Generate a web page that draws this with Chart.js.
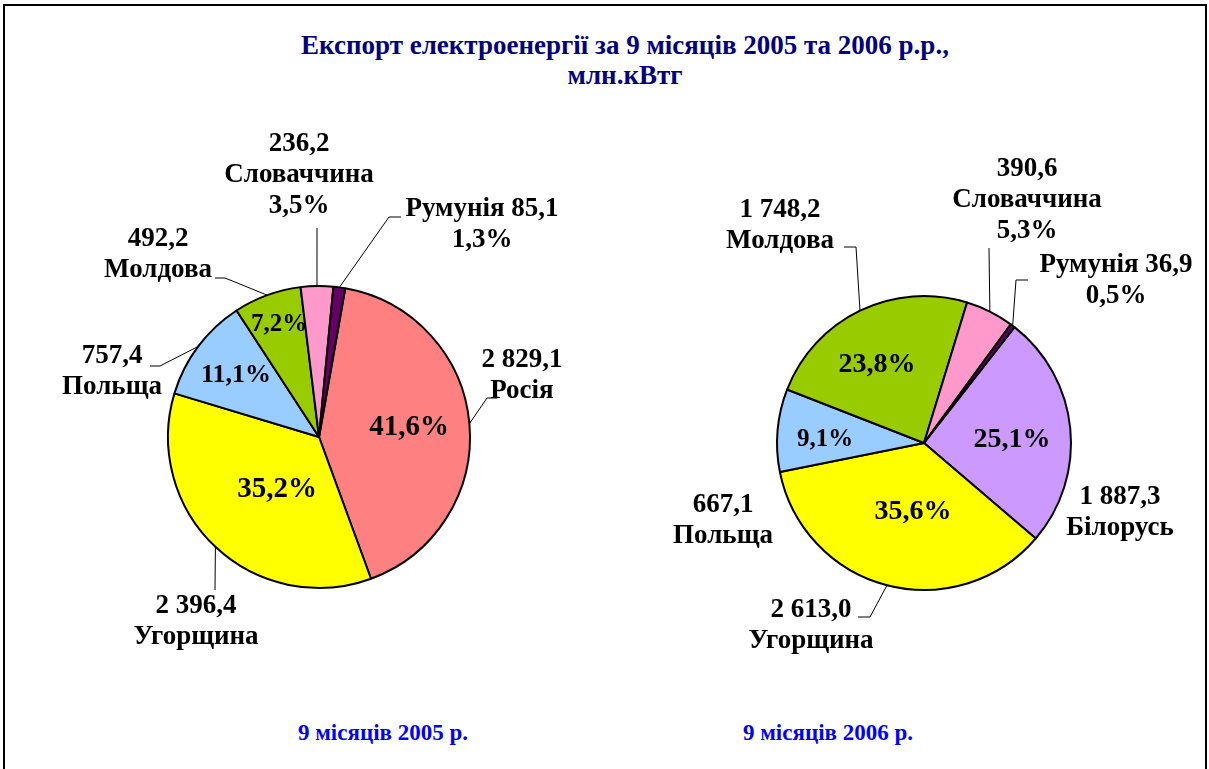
<!DOCTYPE html>
<html>
<head>
<meta charset="utf-8">
<script src="https://cdn.jsdelivr.net/npm/chart.js@4.4.0/dist/chart.umd.min.js"></script>
<style>
  body { margin: 0; width: 1209px; height: 769px; overflow: hidden; background: #fff; font-family: "Liberation Serif", "Times New Roman", serif; }
  #frame { position: absolute; left: 3px; top: 4px; width: 1200px; height: 820px; border: 2px solid #000; }
  .title { position: absolute; left: 0; width: 1250px; text-align: center; color: #000080; font-weight: bold; font-size: 27px; line-height: 30px; top: 30px; }
  .sub { position: absolute; top: 719px; width: 300px; text-align: center; color: #0000ff; font-weight: bold; font-size: 23px; line-height: 28px; }
  canvas { position: absolute; }
</style>
</head>
<body>
<div id="frame"></div>
<div class="title">Експорт електроенергії за 9 місяців 2005 та 2006 р.р.,<br>млн.кВтг</div>
<div class="sub" style="left:233px">9 місяців 2005 р.</div>
<div class="sub" style="left:678px">9 місяців 2006 р.</div>
<canvas id="pie2005" width="638" height="674" style="left:0;top:100px"></canvas>
<canvas id="pie2006" width="568" height="666" style="left:640px;top:110px"></canvas>
<script>
// дані, млн.кВтг
const countries2005 = ['Росія', 'Угорщина', 'Польща', 'Молдова', 'Словаччина', 'Румунія'];
const export2005 = [2829.1, 2396.4, 757.4, 492.2, 236.2, 85.1];
const share2005 = [41.6, 35.2, 11.1, 7.2, 3.5, 1.3];

const countries2006 = ['Білорусь', 'Угорщина', 'Польща', 'Молдова', 'Словаччина', 'Румунія'];
const export2006 = [1887.3, 2613.0, 667.1, 1748.2, 390.6, 36.9];
const share2006 = [25.1, 35.6, 9.1, 23.8, 5.3, 0.5];

const colours = {
  'Росія': '#ff8080', 'Угорщина': '#ffff00', 'Польща': '#99ccff', 'Молдова': '#99cc00',
  'Словаччина': '#ff99cc', 'Румунія': '#660066', 'Білорусь': '#cc99ff'
};

const FONT = '"Liberation Serif", "Times New Roman", serif';

function fmtNum(v) {
  const [i, d] = v.toFixed(1).split('.');
  return i.replace(/\B(?=(\d{3})+$)/g, ' ') + ',' + d;
}
function fmtPct(p) { return p.toFixed(1).replace('.', ',') + '%'; }

// підписи: положення відносно центру кола (px)
const layout2005 = {
  inner: [[90, -9, 29], [-42, 53, 29], [-83, -62, 26], [-40, -112, 25], null, null],
  outer: [
    { form: 'v|n', at: [203, -61], leader: [[178, -39], [168, -39]] },
    { form: 'v|n', at: [-123, 185], leader: [[-104, 153]] },
    { form: 'v|n', at: [-207, -65], leader: [[-169, -71], [-159, -71]] },
    { form: 'v|n', at: [-161, -182], leader: [[-104, -159], [-94, -159]] },
    { form: 'v|n|p', at: [-20, -262], leader: [[-2, -209]] },
    { form: 'nv|p', at: [163, -212], leader: [[82, -220], [70, -220]] }
  ]
};
const layout2006 = {
  inner: [[88, -3, 28], [-11, 69, 28], [-99, -3, 25], [-47, -78, 28], null, null],
  outer: [
    { form: 'v|n', at: [196, 70], leader: null },
    { form: 'v|n', at: [-113, 183], leader: [[-66, 174], [-54, 174]] },
    { form: 'v|n', at: [-201, 78], leader: null },
    { form: 'v|n', at: [-144, -217], leader: [[-80, -196], [-68, -196]] },
    { form: 'v|n|p', at: [103, -243], leader: [[65, -195]] },
    { form: 'nv|p', at: [192, -162], leader: [[104, -163], [92, -163]] }
  ]
};

const pieLabels = {
  id: 'pieLabels',
  afterDatasetsDraw(chart, args, opts) {
    const ctx = chart.ctx;
    const meta = chart.getDatasetMeta(0);
    const ds = chart.data.datasets[0];
    ctx.save();
    ctx.fillStyle = '#000';
    ctx.textAlign = 'center';
    ctx.textBaseline = 'middle';
    meta.data.forEach((arc, i) => {
      const { x, y, startAngle, endAngle, outerRadius } = arc.getProps(['x', 'y', 'startAngle', 'endAngle', 'outerRadius'], true);
      const mid = (startAngle + endAngle) / 2;
      const inn = opts.layout.inner[i];
      if (inn) {
        ctx.font = 'bold ' + inn[2] + 'px ' + FONT;
        ctx.fillText(fmtPct(opts.share[i]), x + inn[0], y + inn[1]);
      }
      const out = opts.layout.outer[i];
      if (!out) return;
      const v = fmtNum(ds.data[i]), n = chart.data.labels[i], p = fmtPct(opts.share[i]);
      const lines = out.form.split('|').map(t => t === 'v' ? v : t === 'n' ? n : t === 'p' ? p : n + ' ' + v);
      ctx.font = 'bold 27px ' + FONT;
      const lh = 31;
      const y0 = y + out.at[1] - (lines.length - 1) * lh / 2;
      lines.forEach((t, k) => ctx.fillText(t, x + out.at[0], y0 + k * lh));
      if (out.leader) {
        ctx.beginPath();
        ctx.lineWidth = 1;
        ctx.strokeStyle = '#000';
        out.leader.forEach((pt, k) => k === 0 ? ctx.moveTo(x + pt[0], y + pt[1]) : ctx.lineTo(x + pt[0], y + pt[1]));
        ctx.lineTo(x + Math.cos(mid) * outerRadius, y + Math.sin(mid) * outerRadius);
        ctx.stroke();
      }
    });
    ctx.restore();
  }
};

function makePie(id, labels, values, share, rotation, radius, layout) {
  new Chart(document.getElementById(id), {
    type: 'pie',
    data: {
      labels: labels,
      datasets: [{
        data: values,
        backgroundColor: labels.map(c => colours[c]),
        borderColor: '#000',
        borderWidth: 2
      }]
    },
    options: {
      responsive: false,
      animation: false,
      rotation: rotation,
      radius: radius,
      layout: { padding: 0 },
      plugins: {
        legend: { display: false },
        tooltip: { enabled: false },
        pieLabels: { share: share, layout: layout }
      }
    },
    plugins: [pieLabels]
  });
}

makePie('pie2005', countries2005, export2005, share2005, 10, 151, layout2005);
makePie('pie2006', countries2006, export2006, share2006, 38, 147, layout2006);
</script>
</body>
</html>
